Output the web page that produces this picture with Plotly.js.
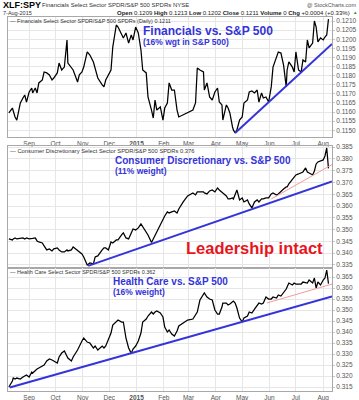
<!DOCTYPE html>
<html><head><meta charset="utf-8">
<script src="https://cdn.plot.ly/plotly-3.0.1.min.js"></script>
<style>html,body{margin:0;padding:0;background:#fff}#chart{width:359px;height:400px}</style>
</head><body><div id="chart"></div>
<script>
// ---- data ----
const dates = ['2014-08-09','2014-08-13','2014-08-14','2014-08-16','2014-08-18','2014-08-22','2014-08-25','2014-08-27','2014-08-29','2014-09-01',
'2014-09-04','2014-09-05','2014-09-08','2014-09-10','2014-09-12','2014-09-16','2014-09-18','2014-09-21','2014-09-24','2014-09-27',
'2014-09-29','2014-10-03','2014-10-05','2014-10-08','2014-10-11','2014-10-14','2014-10-15','2014-10-19','2014-10-21','2014-10-26',
'2014-10-28','2014-10-31','2014-11-02','2014-11-06','2014-11-09','2014-11-13','2014-11-15','2014-11-18','2014-11-23','2014-11-25',
'2014-11-27','2014-11-30','2014-12-03','2014-12-05','2014-12-09','2014-12-11','2014-12-15','2014-12-17','2014-12-20','2014-12-23',
'2014-12-26','2014-12-28','2014-12-31','2015-01-03','2015-01-06','2015-01-08','2015-01-12','2015-01-14','2015-01-18','2015-01-20',
'2015-01-22','2015-01-24','2015-01-28','2015-01-31','2015-02-02','2015-02-05','2015-02-07','2015-02-10','2015-02-13','2015-02-16',
'2015-02-18','2015-02-23','2015-02-28','2015-03-06','2015-03-09','2015-03-11','2015-03-14','2015-03-18','2015-03-19','2015-03-22',
'2015-03-25','2015-03-28','2015-03-31','2015-04-03','2015-04-05','2015-04-08','2015-04-09','2015-04-13','2015-04-15','2015-04-17',
'2015-04-20','2015-04-21','2015-04-23','2015-04-25','2015-04-28','2015-05-01','2015-05-03','2015-05-07','2015-05-09','2015-05-12',
'2015-05-15','2015-05-18','2015-05-20','2015-05-23','2015-05-25','2015-05-28','2015-05-31','2015-06-03','2015-06-05','2015-06-09',
'2015-06-11','2015-06-14','2015-06-17','2015-06-20','2015-06-21','2015-06-23','2015-06-27','2015-06-29','2015-07-01','2015-07-04',
'2015-07-07','2015-07-09','2015-07-12','2015-07-14','2015-07-16','2015-07-20','2015-07-22','2015-07-24','2015-07-26','2015-07-29',
'2015-08-01','2015-08-03','2015-08-05','2015-08-07'];

const xlfSpy = [0.11595,0.11622,0.11606,0.11573,0.11556,0.11650,0.11677,0.11694,0.11655,0.11710,
0.11732,0.11705,0.11732,0.11705,0.11760,0.11776,0.11820,0.11815,0.11804,0.11776,
0.11787,0.11815,0.11869,0.11831,0.11847,0.11996,0.11869,0.11847,0.11831,0.11765,
0.11804,0.11820,0.11847,0.11930,0.11913,0.11875,0.11842,0.11787,0.11749,0.11738,
0.11776,0.11804,0.11831,0.11957,0.12078,0.12067,0.12023,0.12007,0.12034,0.11979,
0.12023,0.11996,0.12067,0.12034,0.11941,0.11831,0.11815,0.11683,0.11611,0.11567,
0.11666,0.11611,0.11628,0.11556,0.11622,0.11650,0.11760,0.11721,0.11721,0.11611,
0.11573,0.11584,0.11595,0.11611,0.11650,0.11842,0.11831,0.11820,0.11721,0.11760,
0.11683,0.11666,0.11710,0.11732,0.11655,0.11639,0.11556,0.11639,0.11622,0.11595,
0.11518,0.11502,0.11485,0.11502,0.11556,0.11573,0.11650,0.11666,0.11710,0.11716,
0.11705,0.11721,0.11655,0.11705,0.11677,0.11683,0.11655,0.11738,0.11847,0.11902,
0.11930,0.11924,0.11858,0.11738,0.11831,0.11875,0.11847,0.11820,0.11930,0.11831,
0.11820,0.11886,0.11875,0.11996,0.11952,0.11979,0.12100,0.12067,0.11985,0.12007,
0.11996,0.12012,0.12023,0.12110];

const xlySpy = [0.34604,0.34562,0.34604,0.34646,0.34604,0.34646,0.34646,0.34604,0.34646,0.34604,
0.34604,0.34625,0.34646,0.34519,0.34477,0.34434,0.34307,0.34137,0.34180,0.34095,
0.34180,0.34222,0.34137,0.34052,0.34052,0.34137,0.34095,0.34137,0.34264,0.34095,
0.34052,0.33967,0.33840,0.33500,0.33585,0.33543,0.33840,0.33882,0.34137,0.34222,
0.34222,0.34137,0.34477,0.34434,0.34562,0.34562,0.34774,0.34859,0.34646,0.34604,
0.34859,0.35028,0.34986,0.35071,0.35241,0.35113,0.34901,0.34774,0.34450,0.34604,
0.34731,0.34901,0.35156,0.35411,0.35580,0.35750,0.35708,0.35750,0.35793,0.35708,
0.35877,0.36175,0.36429,0.36557,0.36472,0.36599,0.36599,0.36599,0.36557,0.36514,
0.36642,0.36684,0.36599,0.36769,0.36684,0.36557,0.36557,0.36429,0.36302,0.36302,
0.36344,0.36302,0.36514,0.36684,0.36260,0.36344,0.36175,0.36260,0.36090,0.35920,
0.36175,0.36260,0.36175,0.36302,0.36302,0.36344,0.36344,0.36514,0.36557,0.36472,
0.36514,0.36642,0.36726,0.36811,0.36811,0.36939,0.37109,0.37193,0.37321,0.37363,
0.37406,0.37448,0.37618,0.37448,0.37406,0.37321,0.37491,0.37788,0.37873,0.37915,
0.37958,0.38127,0.38467,0.37600];

const xlvSpy = [0.31500,0.31773,0.31909,0.31864,0.31909,0.31864,0.31955,0.32000,0.32045,0.31955,
0.32182,0.32136,0.32273,0.32318,0.32364,0.32455,0.32500,0.32682,0.32773,0.32727,
0.32682,0.32591,0.32864,0.33045,0.33136,0.32864,0.32818,0.32682,0.32864,0.33182,
0.33364,0.33591,0.33727,0.33545,0.33500,0.33273,0.33364,0.33182,0.33364,0.33273,
0.33364,0.33636,0.33955,0.34318,0.34500,0.34545,0.34455,0.34455,0.33727,0.33273,
0.33030,0.33227,0.33364,0.33591,0.33955,0.34455,0.34591,0.34727,0.34909,0.34818,
0.34909,0.34955,0.34864,0.34682,0.34227,0.34000,0.34091,0.33909,0.33818,0.34045,
0.34273,0.34409,0.34545,0.34591,0.34773,0.34909,0.35455,0.35727,0.35773,0.35591,
0.35500,0.35455,0.35000,0.34818,0.34818,0.35136,0.35318,0.35318,0.35227,0.35273,
0.35364,0.35409,0.35318,0.35091,0.34636,0.34460,0.34636,0.34727,0.34909,0.34864,
0.35045,0.35182,0.35318,0.35273,0.35318,0.35591,0.35500,0.35500,0.35591,0.35545,
0.35682,0.35636,0.35773,0.35955,0.36045,0.36227,0.36136,0.36227,0.36182,0.36182,
0.36182,0.36273,0.36227,0.36227,0.36364,0.36227,0.36455,0.36000,0.36273,0.36136,
0.36364,0.36455,0.36818,0.36200];

// trend lines (endpoints)
const xlfTrendX = ['2015-04-23','2015-08-11'];
const xlfTrendY = [0.11485, 0.11974];
const xlyTrendX = ['2014-11-07','2015-08-11'];
const xlyTrendY = [0.3346, 0.3704];
const xlyShortX = ['2015-06-03','2015-08-11'];
const xlyShortY = [0.3630, 0.3776];
const xlvTrendX = ['2014-08-10','2015-08-11'];
const xlvTrendY = [0.3148, 0.3562];
const xlvShortX = ['2015-05-29','2015-08-11'];
const xlvShortY = [0.3532, 0.3618];

const monthTicks = ['2014-09-01','2014-10-01','2014-11-01','2014-12-01','2015-01-01','2015-02-01','2015-03-01','2015-04-01','2015-05-01','2015-06-01','2015-07-01','2015-08-01'];
const monthLabels = ['Sep','Oct','Nov','Dec','<b>2015</b>','Feb','Mar','Apr','May','Jun','Jul','Aug'];

// ---- styling ----
const BLUE = '#3434d8', PINK = '#f39a9a', RED = '#e8141c';
const FONT = 'Liberation Sans, Arial, sans-serif';
const W = 359, H = 400, ML = 8, MR = 27, MT = 17, MB = 9;
const PW = W - ML - MR, PH = H - MT - MB;

function price(x, y, xa, ya){ return {x, y, xaxis:xa, yaxis:ya, type:'scatter', mode:'lines', line:{color:'#000', width:1.25}, hoverinfo:'skip'}; }
function trend(x, y, xa, ya, color, w){ return {x, y, xaxis:xa, yaxis:ya, type:'scatter', mode:'lines', line:{color, width:w}, hoverinfo:'skip'}; }

const traces = [
  price(dates, xlfSpy, 'x', 'y'),
  trend(xlfTrendX, xlfTrendY, 'x', 'y', BLUE, 2),
  price(dates, xlySpy, 'x2', 'y2'),
  trend(xlyTrendX, xlyTrendY, 'x2', 'y2', BLUE, 2),
  trend(xlyShortX, xlyShortY, 'x2', 'y2', PINK, 1),
  price(dates, xlvSpy, 'x3', 'y3'),
  trend(xlvTrendX, xlvTrendY, 'x3', 'y3', BLUE, 2),
  trend(xlvShortX, xlvShortY, 'x3', 'y3', PINK, 1)
];

const xBase = {type:'date', range:['2014-08-08','2015-08-11'], tickmode:'array', tickvals:monthTicks, ticktext:monthLabels,
  showgrid:true, gridcolor:'#e6e6e6', gridwidth:1, showline:true, mirror:true, linecolor:'#a8a8a8', linewidth:1,
  ticks:'', tickfont:{size:6.5, color:'#555', family:FONT}, zeroline:false, fixedrange:true};
const yBase = {side:'right', showgrid:true, gridcolor:'#e6e6e6', gridwidth:1, showline:true, mirror:true, linecolor:'#a8a8a8', linewidth:1,
  ticks:'outside', ticklen:2, tickcolor:'#c8c8c8', tickfont:{size:6.5, color:'#555', family:FONT}, zeroline:false, fixedrange:true};

function pxX(px){ return (px - ML) / PW; }
function pxY(py){ return (H - MB - py) / PH; }
function ann(text, px, py, size, color, anchor){
  return {xref:'paper', yref:'paper', x:pxX(px), y:pxY(py), xanchor:anchor||'left', yanchor:'middle', showarrow:false,
    text, font:{size, color, family:FONT}, borderpad:0};
}

const annotations = [
  ann('<b>XLF:SPY</b>', 2, 5, 9, '#000'),
  ann('Financials Select Sector SPDR/S&amp;P 500 SPDRs NYSE', 41, 5.5, 6, '#333'),
  ann('@ StockCharts.com', 357, 5.5, 5.5, '#555', 'right'),
  ann('7-Aug-2015', 2, 12.5, 5.5, '#333'),
  ann('<b>Open</b> 0.1209 <b>High</b> 0.1213 <b>Low</b> 0.1202 <b>Close</b> 0.1211 <b>Volume</b> 0 <b>Chg</b> +0.0004 (+0.33%)', 351, 12.5, 6, '#222', 'right'),
  ann('▲', 352, 12.5, 4.5, '#1a9a1a'),
  ann('— Financials Select Sector SPDR/S&amp;P 500 SPDRs (Daily) 0.1211', 9, 20.5, 5.5, '#333'),
  ann('— Consumer Discretionary Select Sector SPDR/S&amp;P 500 SPDRs 0.376', 9, 150.5, 5.8, '#333'),
  ann('— Health Care Select Sector SPDR/S&amp;P 500 SPDRs 0.362', 9, 271.8, 5.5, '#333'),
  ann('<b>Financials vs. S&amp;P 500</b>', 142, 30.5, 12, BLUE),
  ann('<b>(16% wgt in S&amp;P 500)</b>', 142, 42, 8.5, BLUE),
  ann('<b>Consumer Discretionary vs. S&amp;P 500</b>', 114, 160, 10, BLUE),
  ann('<b>(11% weight)</b>', 114, 170.5, 8.5, BLUE),
  ann('<b>Health Care vs. S&amp;P 500</b>', 112, 281, 10, BLUE),
  ann('<b>(16% weight)</b>', 112, 291.8, 8.5, BLUE),
  ann('<b>Leadership intact</b>', 185, 248, 16.5, RED)
];

const layout = {
  width:W, height:H, margin:{l:ML, r:MR, t:MT, b:MB, pad:0}, paper_bgcolor:'#fff', plot_bgcolor:'#fff', showlegend:false,
  font:{family:FONT, size:6.5, color:'#444'},
  xaxis:  Object.assign({}, xBase, {anchor:'y'}),
  xaxis2: Object.assign({}, xBase, {anchor:'y2', matches:'x', showticklabels:false}),
  xaxis3: Object.assign({}, xBase, {anchor:'y3', matches:'x'}),
  yaxis:  Object.assign({}, yBase, {domain:[pxY(137), 1], range:[0.11463, 0.12122], tick0:0.115, dtick:0.0005, tickformat:'.4f'}),
  yaxis2: Object.assign({}, yBase, {domain:[pxY(268), pxY(146)], range:[0.3337, 0.3855], tick0:0.335, dtick:0.005, tickformat:'.3f'}),
  yaxis3: Object.assign({}, yBase, {domain:[0, pxY(268)], range:[0.3132, 0.3691], tick0:0.315, dtick:0.005, tickformat:'.3f'}),
  annotations
};

Plotly.newPlot('chart', traces, layout, {displayModeBar:false, staticPlot:true});
</script></body></html>
